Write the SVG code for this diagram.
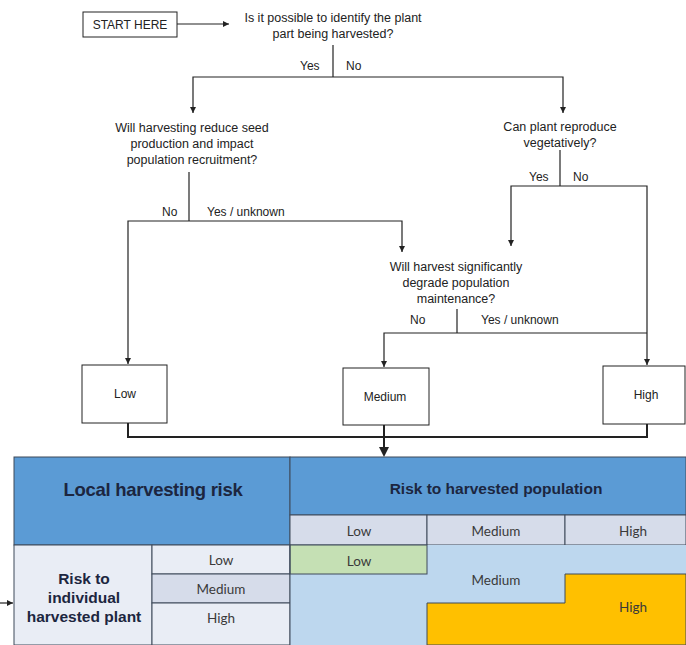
<svg xmlns="http://www.w3.org/2000/svg" width="686" height="645" viewBox="0 0 686 645">
  <style>
    .q { font-family: "Liberation Sans", Arial, sans-serif; font-size: 12.5px; fill: #222; text-anchor: middle; }
    .lbl { font-family: "Liberation Sans", Arial, sans-serif; font-size: 12px; fill: #222; }
    .box { fill: #fff; stroke: #222; stroke-width: 1; }
    .wire { fill: none; stroke: #222; stroke-width: 1.2; }
    .thick { fill: none; stroke: #222; stroke-width: 2; }
    .t { font-family: Lato, "Open Sans", sans-serif; font-size: 13.5px; fill: #3a3a3a; text-anchor: middle; }
    .hd { font-family: "Liberation Sans", Arial, sans-serif; font-weight: bold; fill: #1c2640; text-anchor: middle; }
    .cell { stroke: #3f4a5a; stroke-width: 1; }
  </style>
  <defs>
    <marker id="arr" viewBox="0 0 10 10" refX="10" refY="5" markerWidth="6" markerHeight="6" markerUnits="userSpaceOnUse" orient="auto">
      <path d="M0,0 L10,5 L0,10 z" fill="#222"/>
    </marker>
  </defs>

  <rect width="686" height="645" fill="#fff"/>

  <!-- flowchart nodes -->
  <g id="start">
    <rect class="box" x="83" y="12" width="94" height="25"/>
    <text class="lbl" x="130" y="29" text-anchor="middle">START HERE</text>
  </g>
  <g id="q-identify">
    <text class="q" x="333" y="22">Is it possible to identify the plant</text>
    <text class="q" x="333" y="38">part being harvested?</text>
  </g>
  <g id="q-seed">
    <text class="q" x="192" y="132">Will harvesting  reduce  seed</text>
    <text class="q" x="192" y="148">production and impact</text>
    <text class="q" x="192" y="164">population  recruitment?</text>
  </g>
  <g id="q-vegetative">
    <text class="q" x="560" y="131">Can plant reproduce</text>
    <text class="q" x="560" y="147">vegetatively?</text>
  </g>
  <g id="q-degrade">
    <text class="q" x="456" y="271">Will harvest  significantly</text>
    <text class="q" x="456" y="287">degrade  population</text>
    <text class="q" x="456" y="303">maintenance?</text>
  </g>
  <g id="out-low">
    <rect class="box" x="82" y="365" width="85" height="58"/>
    <text class="lbl" x="125" y="398" text-anchor="middle">Low</text>
  </g>
  <g id="out-medium">
    <rect class="box" x="343" y="368" width="86" height="57"/>
    <text class="lbl" x="385" y="401" text-anchor="middle">Medium</text>
  </g>
  <g id="out-high">
    <rect class="box" x="603" y="366" width="82" height="58"/>
    <text class="lbl" x="646" y="399" text-anchor="middle">High</text>
  </g>

  <!-- connectors and branch labels -->
  <g id="connectors">
    <line class="wire" x1="177" y1="24" x2="229" y2="24" marker-end="url(#arr)"/>
    <path class="wire" d="M333,45 V77"/>
    <path class="wire" d="M333,77 H193 V113" marker-end="url(#arr)"/>
    <path class="wire" d="M333,77 H563 V113" marker-end="url(#arr)"/>
    <path class="wire" d="M189,172 V221"/>
    <path class="wire" d="M189,221 H128 V364" marker-end="url(#arr)"/>
    <path class="wire" d="M189,221 H402 V252" marker-end="url(#arr)"/>
    <path class="wire" d="M560,150 V186"/>
    <path class="wire" d="M560,186 H511 V246" marker-end="url(#arr)"/>
    <path class="wire" d="M560,186 H647 V365" marker-end="url(#arr)"/>
    <path class="wire" d="M457,309 V333"/>
    <path class="wire" d="M457,333 H384 V367" marker-end="url(#arr)"/>
    <path class="wire" d="M457,333 H647"/>
    <path class="thick" d="M128,423 V437 H647 V424"/>
    <path class="thick" d="M384,425 V448"/>
    <path d="M379,447 L389,447 L384,457 z" fill="#222"/>
    <line class="wire" x1="0" y1="603" x2="13" y2="603" marker-end="url(#arr)"/>

    <text class="lbl" x="300" y="70">Yes</text>
    <text class="lbl" x="346" y="70">No</text>
    <text class="lbl" x="162" y="216">No</text>
    <text class="lbl" x="207" y="216">Yes / unknown</text>
    <text class="lbl" x="529" y="181">Yes</text>
    <text class="lbl" x="573" y="181">No</text>
    <text class="lbl" x="410" y="324">No</text>
    <text class="lbl" x="481" y="324">Yes / unknown</text>
  </g>

  <!-- risk matrix -->
  <g id="matrix">
    <!-- headers -->
    <rect class="cell" x="14" y="457" width="276" height="88" fill="#5b9bd5"/>
    <rect class="cell" x="290" y="457" width="396" height="58" fill="#5b9bd5"/>
    <text class="hd" x="153" y="496" font-size="18.5" letter-spacing="-0.3">Local harvesting risk</text>
    <text class="hd" x="496" y="494" font-size="15.5">Risk to harvested population</text>

    <rect class="cell" x="290" y="515" width="137" height="30" fill="#d6dcea"/>
    <rect class="cell" x="427" y="515" width="138" height="30" fill="#d6dcea"/>
    <rect class="cell" x="565" y="515" width="121" height="30" fill="#d6dcea"/>
    <text class="t" x="359" y="536">Low</text>
    <text class="t" x="496" y="536">Medium</text>
    <text class="t" x="633" y="536">High</text>

    <!-- left axis -->
    <rect class="cell" x="14" y="545" width="138" height="100" fill="#e9edf5"/>
    <text class="hd" x="84" y="584" font-size="15.5">Risk to</text>
    <text class="hd" x="84" y="603" font-size="15.5">individual</text>
    <text class="hd" x="84" y="622" font-size="15.5">harvested plant</text>
    <rect class="cell" x="152" y="545" width="138" height="29" fill="#e9edf5"/>
    <rect class="cell" x="152" y="574" width="138" height="29" fill="#d6dcea"/>
    <rect class="cell" x="152" y="603" width="138" height="42" fill="#e9edf5"/>
    <text class="t" x="221" y="565">Low</text>
    <text class="t" x="221" y="594">Medium</text>
    <text class="t" x="221" y="623">High</text>

    <!-- risk zones -->
    <rect x="290" y="545" width="396" height="100" fill="#bdd7ee"/>
    <rect class="cell" x="290" y="545" width="137" height="29" fill="#c5e0b4"/>
    <path class="cell" d="M686,574 H565 V603 H427 V645 H686 Z" fill="#ffc000"/>
    <line class="cell" x1="290" y1="545" x2="290" y2="645"/>
    <text class="t" x="359" y="566">Low</text>
    <text class="t" x="496" y="585">Medium</text>
    <text class="t" x="633" y="612">High</text>
  </g>
</svg>
